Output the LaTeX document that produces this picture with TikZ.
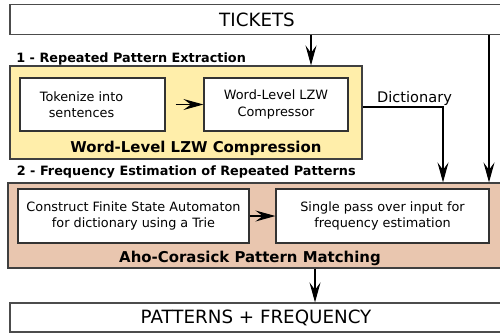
\documentclass[tikz,border=0pt]{standalone}
\usepackage{fontspec}
\setmainfont{DejaVu Sans}
\usepackage{xcolor}
\usetikzlibrary{arrows.meta}

\definecolor{stageyellow}{HTML}{FFEEAA}
\definecolor{stagebrown}{HTML}{E9C6AF}

\begin{document}
\begin{tikzpicture}[x=0.02cm,y=-0.02cm]
		\tikzset{> = {Stealth[length=0.4cm,width=0.22cm,inset=0.15cm]},
			io/.style = {draw = black!70,line width = 0.7pt,fill = white,inner sep = 0pt,
				font = \fontsize{10.4}{12}\selectfont},
			stage/.style = {draw = black!75,line width = 0.7pt,inner sep = 0pt},
			task/.style = {draw = black!80,line width = 0.7pt,fill = white,inner sep = 0pt,align = center},
			heading/.style = {inner sep = 0pt,font = \fontsize{7.3}{9}\bfseries\selectfont},
			title/.style = {inner sep = 0pt,font = \fontsize{8.5}{10}\bfseries\selectfont},
			flow/.style = {->,line width = 0.6pt}}
		\useasboundingbox (0,0) rectangle (500,332);
		\clip (0,0) rectangle (500,332);
		\node [io,minimum width = 9.88cm,minimum height = 0.59cm] (tickets) at (257,19.4) {TICKETS};
		\node [heading,anchor = base west] (head1) at (16,62.5) {1 - Repeated Pattern Extraction};
		\node [stage,fill = stageyellow,minimum width = 7.04cm,minimum height = 1.86cm] (stage1) at (186,112.5) {};
		\node [task,minimum width = 2.9cm,minimum height = 1.06cm] (tokenize) at (92.5,104.5) {};
		\node [inner sep = 0pt,align = center,
			font = \fontsize{7.3}{9.4}\selectfont] (tokenizetext) at (81.5,104.5) {Tokenize into\\sentences};
		\node [task,minimum width = 2.88cm,minimum height = 1.06cm,
			font = \fontsize{7.3}{9.4}\selectfont] (lzw) at (276,104.5) {Word-Level LZW\\Compressor};
		\node [title,anchor = base] (lzwtitle) at (196,152.3) {Word-Level LZW Compression};
		\node [inner sep = 0pt,anchor = base,font = \fontsize{8.3}{10}\selectfont] (dict) at (414.5,102.7) {Dictionary};
		\node [heading,anchor = base west] (head2) at (16.5,175.7) {2 - Frequency Estimation of Repeated Patterns};
		\node [stage,fill = stagebrown,minimum width = 10.1cm,minimum height = 1.7cm] (stage2) at (260.5,225.5) {};
		\node [task,minimum width = 4.62cm,minimum height = 1.08cm,
			font = \fontsize{7.3}{9.2}\selectfont] (fsa) at (133.5,216) {Construct Finite State Automaton\\for dictionary using a Trie};
		\node [task,minimum width = 4.26cm,minimum height = 1.08cm,
			font = \fontsize{7.3}{9.2}\selectfont] (scan) at (382.5,216) {Single pass over input for\\frequency estimation};
		\node [title,anchor = base] (actitle) at (250,262.3) {Aho-Corasick Pattern Matching};
		\node [io,minimum width = 9.84cm,minimum height = 0.58cm] (patterns) at (256,317.5) {PATTERNS + FREQUENCY};
		\coordinate (tk) at (311,0);
		\coordinate (side) at (489,0);
		\coordinate (dk) at (443,107);
		\coordinate (pk) at (315,0);
		\draw [flow] (tickets.south -| tk) -- (stage1.north -| tk);
		\draw [flow] (tickets.south -| side) -- (stage2.north -| side);
		\draw [flow] (stage1.east |- dk) -| (stage2.north -| dk);
		\draw [flow] ([xshift = 0.2cm]tokenize.east) -- (lzw.west);
		\draw [flow] (fsa.east) -- (scan.west);
		\draw [flow] (stage2.south -| pk) -- (patterns.north -| pk);
	\end{tikzpicture}
\end{document}
